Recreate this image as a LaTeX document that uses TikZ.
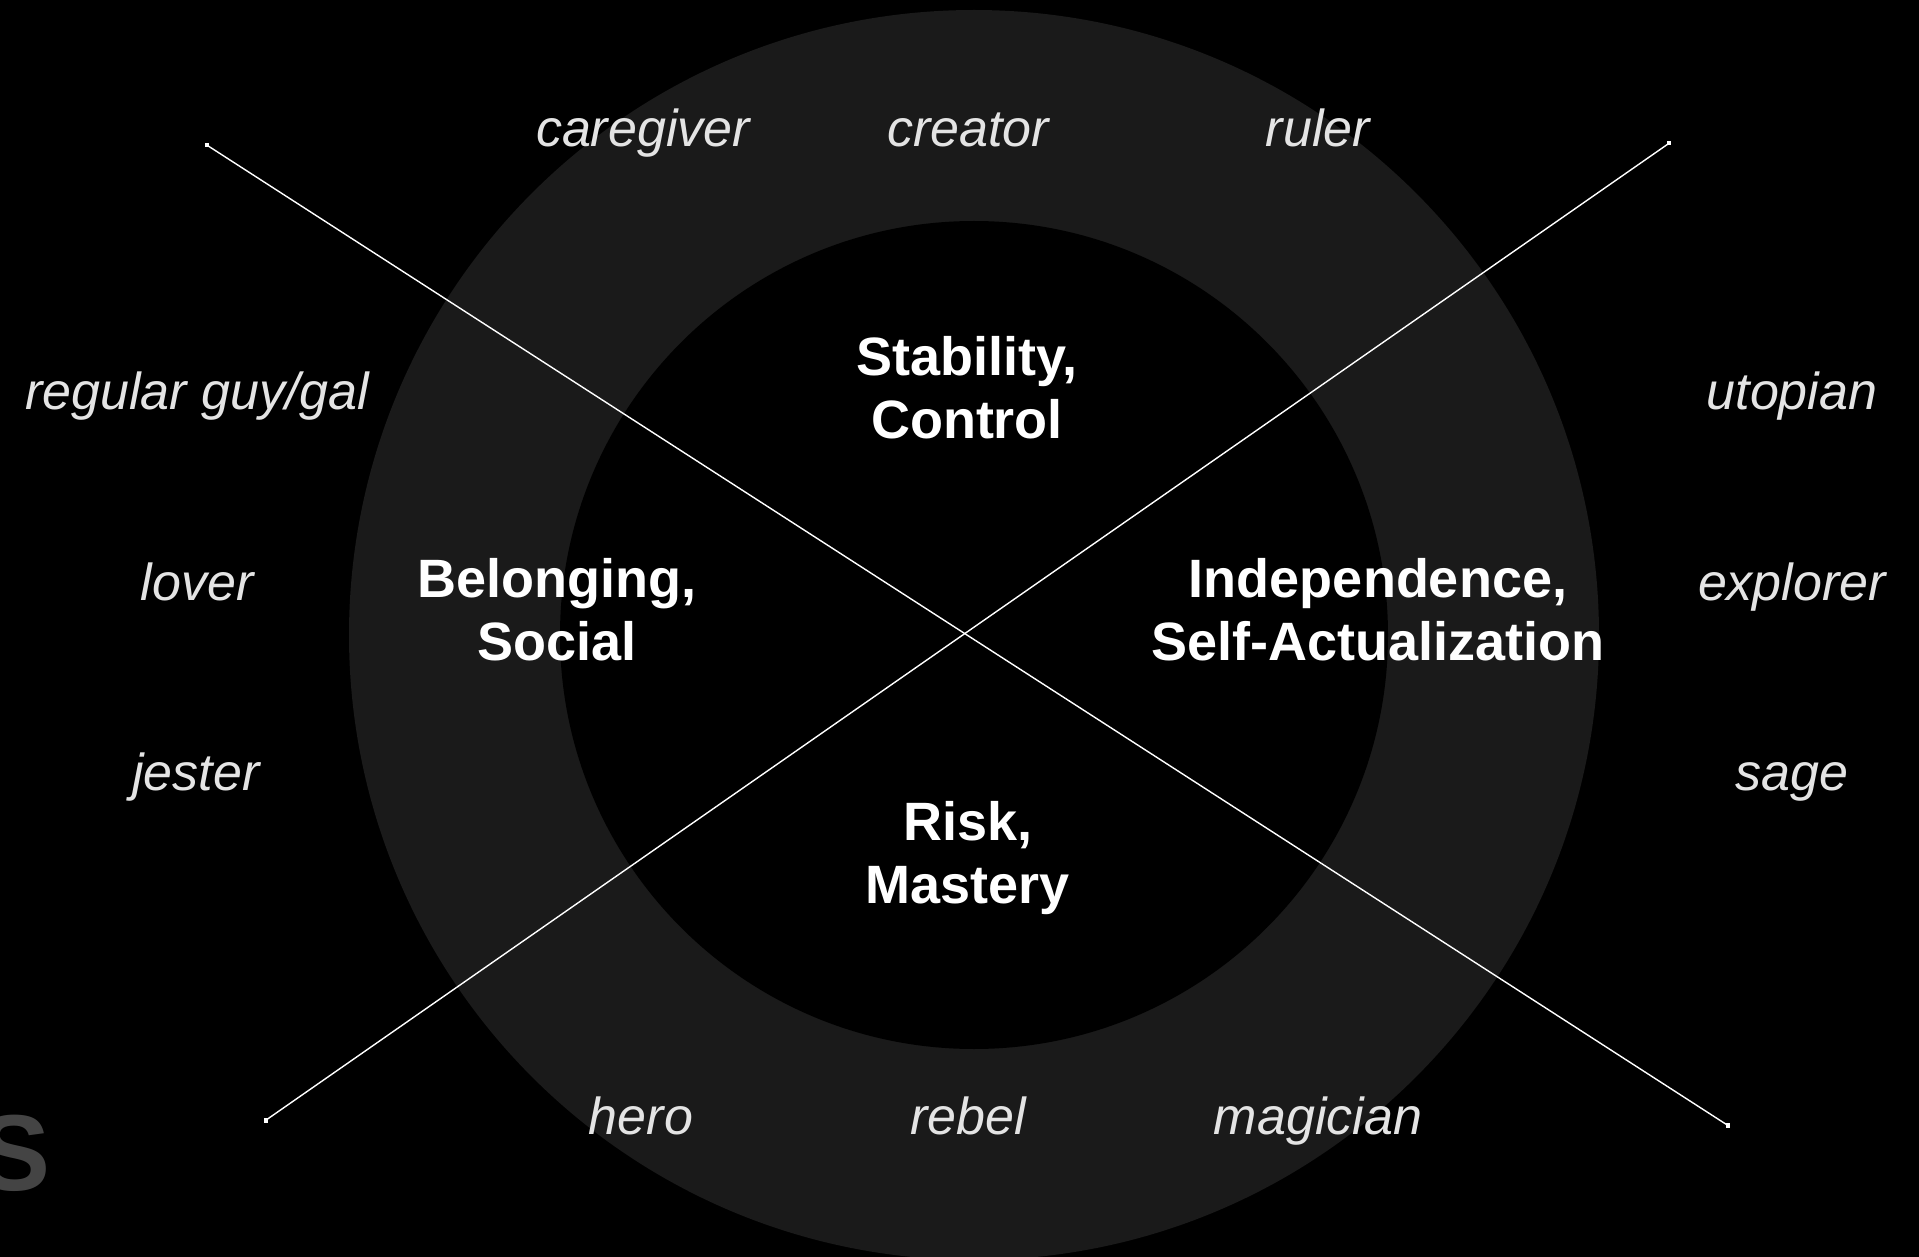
\documentclass[tikz,border=0pt]{standalone}
\usepackage{fontspec}
\setmainfont{Liberation Sans}
\setsansfont{Liberation Sans}

\definecolor{ringgray}{HTML}{1A1A1A}
\definecolor{labelgray}{HTML}{E4E4E4}
\definecolor{taggray}{HTML}{444444}

\begin{document}
\begin{tikzpicture}[
  x=0.5pt,
  y=-0.5pt,
  font=\sffamily,
  ring/.style={fill=ringgray},
  hub/.style={fill=black},
  axis/.style={draw=white, line width=0.7pt},
  endpt/.style={
    rectangle,
    fill=white,
    minimum size=2.2pt,
    inner sep=0pt
  },
  archetype/.style={
    font=\fontsize{26}{30}\selectfont\itshape,
    text=labelgray,
    anchor=base,
    inner sep=0pt
  },
  motive/.style={
    font=\fontsize{27}{31.5}\selectfont\bfseries,
    text=white,
    align=center,
    anchor=base,
    inner sep=0pt
  },
  tag/.style={
    font=\fontsize{54}{60}\selectfont\bfseries,
    text=taggray,
    inner sep=0pt
  }
]

% Page and background.
\useasboundingbox (0,0) rectangle (1919,1257);
\fill[black] (0,0) rectangle (1919,1257);
\clip (0,0) rectangle (1919,1257);

% ---------------------------------------------------------------------------
% Ring of archetypes and the inner disc of motivations
% ---------------------------------------------------------------------------
\coordinate (hubc) at (974,635);
\fill[ring] (hubc) circle[radius=312.5pt];
\fill[hub] (hubc) circle[radius=207pt];

% Two crossing axes with square end points.
\coordinate (nw) at (206.7,145);
\coordinate (ne) at (1669,143.3);
\coordinate (sw) at (265.7,1120.3);
\coordinate (se) at (1727.7,1125.3);
\draw[axis] (nw) -- (se);
\draw[axis] (ne) -- (sw);
\node[endpt] (nwdot) at (nw) {};
\node[endpt] (nedot) at (ne) {};
\node[endpt] (swdot) at (sw) {};
\node[endpt] (sedot) at (se) {};

% ---------------------------------------------------------------------------
% Motivations (one per quadrant), placed on the baseline of the last line
% ---------------------------------------------------------------------------
\node[motive] (stability) at (967,438) {Stability,\\Control};
\node[motive] (belonging) at (557,660) {Belonging,\\Social};
\node[motive] (independence) at (1378,660) {Independence,\\Self-Actualization};
\node[motive] (risk) at (968,903) {Risk,\\Mastery};

% ---------------------------------------------------------------------------
% Archetypes
% ---------------------------------------------------------------------------
% top row
\node[archetype] (caregiver) at (643,147) {caregiver};
\node[archetype] (creator) at (968,147) {creator};
\node[archetype] (ruler) at (1318,147) {ruler};
% left column
\node[archetype] (regular) at (197,410) {regular guy/gal};
\node[archetype] (lover) at (197,600) {lover};
\node[archetype] (jester) at (196,790) {jester};
% right column
\node[archetype] (utopian) at (1792,410) {utopian};
\node[archetype] (explorer) at (1792,600) {explorer};
\node[archetype] (sage) at (1792,790) {sage};
% bottom row
\node[archetype] (hero) at (641,1134) {hero};
\node[archetype] (rebel) at (968,1134) {rebel};
\node[archetype] (magician) at (1318,1134) {magician};

% Cut-off heading letter at the lower left edge.
\node[tag, anchor=base east] (heading) at (51,1190) {S};

\end{tikzpicture}
\end{document}
